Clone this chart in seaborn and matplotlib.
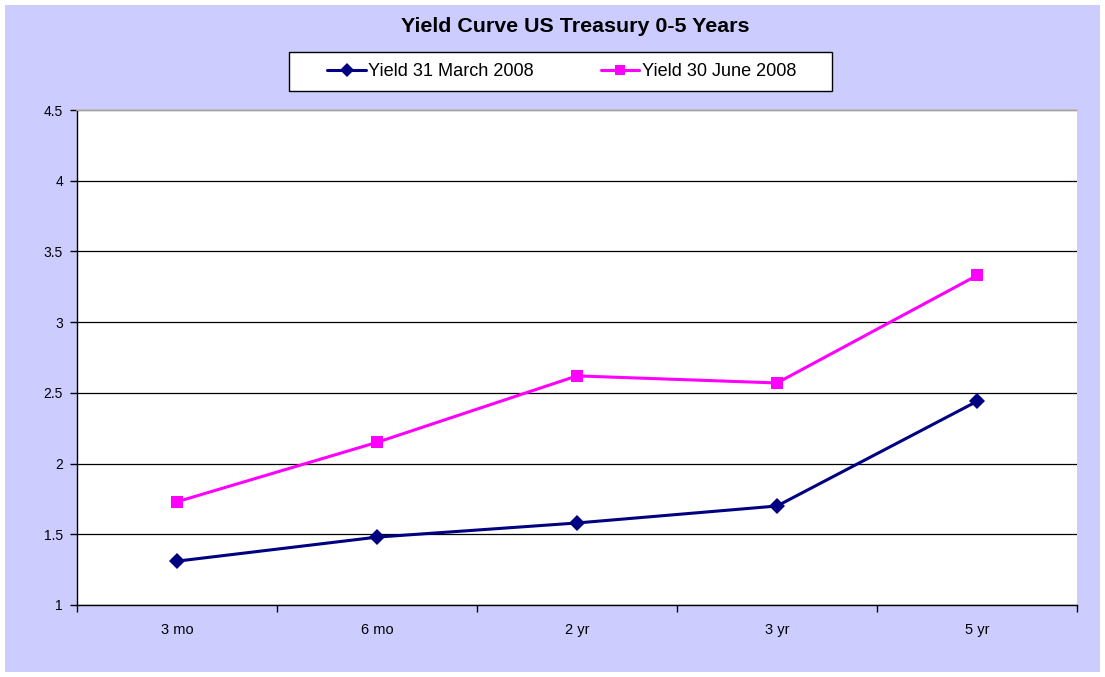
import matplotlib
matplotlib.use("Agg")
import matplotlib.pyplot as plt
import matplotlib.patches as mpatches
import pandas as pd
import seaborn as sns

maturities = ["3 mo", "6 mo", "2 yr", "3 yr", "5 yr"]
yield_mar = [1.31, 1.48, 1.58, 1.70, 2.44]
yield_jun = [1.73, 2.15, 2.62, 2.57, 3.33]
series_names = ["Yield 31 March 2008", "Yield 30 June 2008"]

df = pd.DataFrame({
    "maturity": maturities * 2,
    "yield": yield_mar + yield_jun,
    "series": [series_names[0]] * 5 + [series_names[1]] * 5,
})

sns.set_theme(style="white")
plt.rcParams["font.family"] = ["Liberation Sans", "DejaVu Sans"]
plt.rcParams["text.color"] = "black"
plt.rcParams["xtick.color"] = "black"
plt.rcParams["ytick.color"] = "black"

W, H = 1105, 677
fig = plt.figure(figsize=(W / 100, H / 100), dpi=100, facecolor="white")
# lavender chart area and the boxed legend
fig.patches.append(mpatches.Rectangle((5 / W, 5 / H), 1095 / W, 667 / H,
                                      transform=fig.transFigure, facecolor="#CCCCFF",
                                      edgecolor="none", zorder=-10))
fig.patches.append(mpatches.Rectangle((289 / W, 1 - 91 / H), 543 / W, 39 / H,
                                      transform=fig.transFigure, facecolor="white",
                                      edgecolor="black", linewidth=1, zorder=-5))
ax = fig.add_axes([77 / W, 72 / H, 1000 / W, 495 / H])
ax.set_facecolor("white")

sns.lineplot(data=df, x="maturity", y="yield", hue="series", style="series",
             palette={series_names[0]: "#000080", series_names[1]: "#FF00FF"},
             markers={series_names[0]: "D", series_names[1]: "s"},
             dashes=False, linewidth=2.2, markersize=8.5, markeredgewidth=0,
             ax=ax, legend=True)

ax.set_xlim(-0.5, len(maturities) - 0.5)
ax.set_ylim(1, 4.5)
ax.set_yticks([1, 1.5, 2, 2.5, 3, 3.5, 4, 4.5])
ax.set_yticklabels(["1", "1.5", "2", "2.5", "3", "3.5", "4", "4.5"], fontsize=10)
ax.set_xticks([i - 0.5 for i in range(len(maturities) + 1)])
ax.set_xticklabels([])
ax.set_xticks(range(len(maturities)), minor=True)
ax.set_xticklabels(maturities, minor=True, fontsize=10.5)
ax.tick_params(axis="x", which="minor", length=0, pad=13)
ax.tick_params(axis="x", which="major", length=5, width=1, color="black", direction="out")
ax.tick_params(axis="y", length=5, width=1, color="black", direction="out", pad=5)
ax.xaxis.set_ticks_position("bottom")
ax.yaxis.set_ticks_position("left")

ax.grid(axis="y", color="black", linewidth=0.9)
ax.set_axisbelow(True)
for side in ["left", "bottom"]:
    ax.spines[side].set_color("black")
    ax.spines[side].set_linewidth(1)
ax.spines["right"].set_visible(False)
ax.spines["top"].set_color("#BBBBBB")
ax.set_xlabel("")
ax.set_ylabel("")

handles, labels = ax.get_legend_handles_labels()
ax.legend_.remove()
for h in handles:
    h.set_markersize(7)
leg = fig.legend(handles, labels, loc="center", bbox_to_anchor=(562 / W, 1 - 71.5 / H),
                 ncol=2, frameon=False, fontsize=13.1, handlelength=2.1,
                 columnspacing=3.7, handletextpad=0.15, borderaxespad=0)

fig.text(575 / W, 1 - 26 / H, "Yield Curve US Treasury 0-5 Years",
         ha="center", va="center", fontsize=15.4, fontweight="bold")

fig.savefig("out.png", dpi=100, facecolor=fig.get_facecolor())
